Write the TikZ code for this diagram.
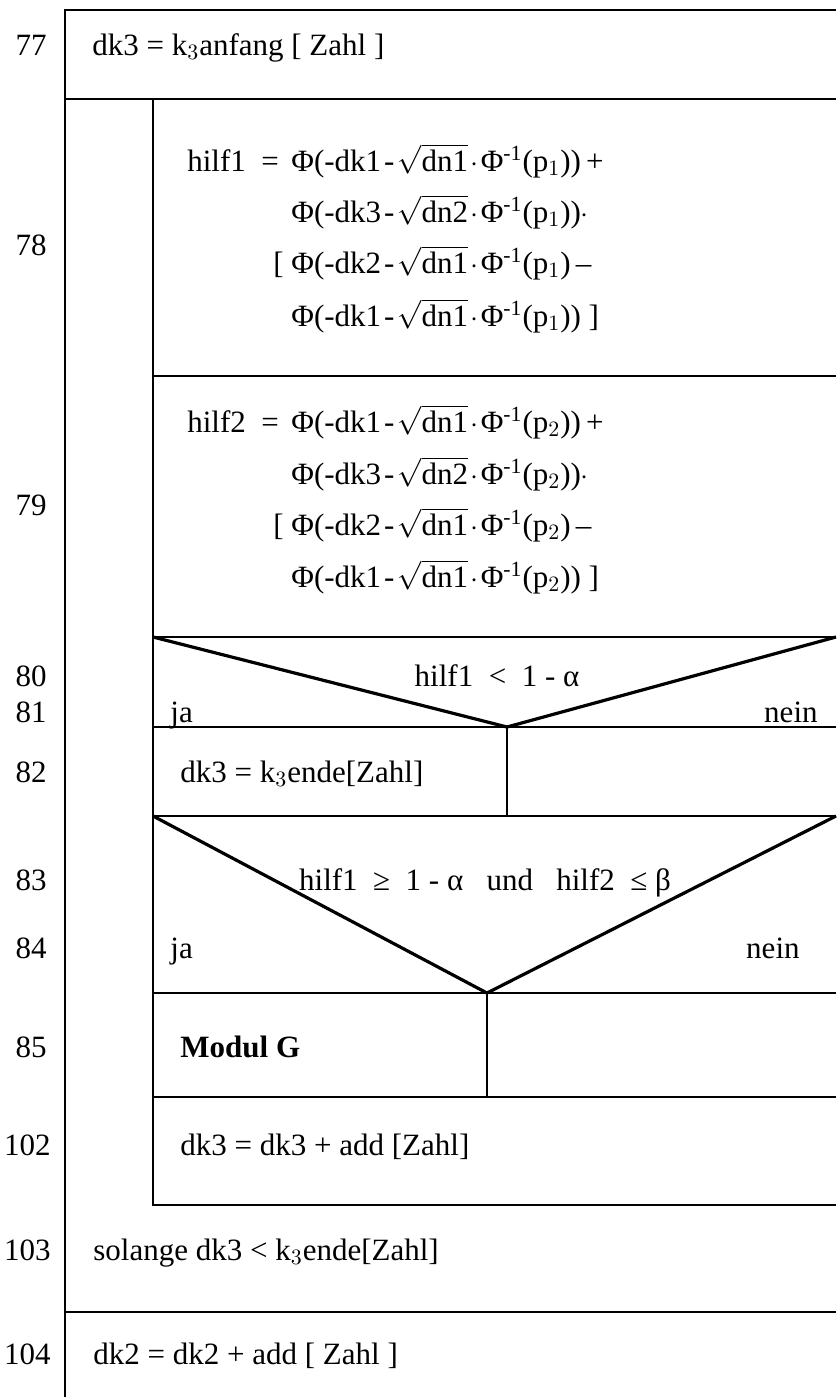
\documentclass[tikz,border=0pt]{standalone}
\usepackage{fontspec}
\setmainfont{Liberation Serif}
\newcommand\rt[1]{$\sqrt{\hbox{#1}}$}
\newcommand\Pinv{\kern1.2pt$\cdot$\kern1.2ptΦ\textsuperscript{-1}}
\newcommand\mi{\kern1.5pt-\kern1.5pt}
\begin{document}
\begin{tikzpicture}[x=0.5pt,y=-0.5pt,
  txt/.style={font=\fontsize{15.5}{18}\selectfont, inner sep=0pt},
  lt/.style={txt, anchor=base west},
  rtx/.style={txt, anchor=base east},
  ct/.style={txt, anchor=base},
  num/.style={txt, anchor=base east},
  frame/.style={line width=1.1pt},
  diag/.style={line width=1.6pt}]
\useasboundingbox (0,0) rectangle (836,1397);
% frame lines
\draw[frame] (65,1397) -- (65,10) -- (836,10);
\draw[frame] (65,99) -- (836,99);
\draw[frame] (153,99) -- (153,1205) -- (836,1205);
\draw[frame] (153,376) -- (836,376);
\draw[frame] (153,637) -- (836,637);
\draw[diag] (153,637) -- (507,727) -- (836,637);
\draw[frame] (153,727) -- (836,727);
\draw[frame] (507,727) -- (507,816);
\draw[frame] (153,816) -- (836,816);
\draw[diag] (153,816) -- (487,993) -- (836,816);
\draw[frame] (153,993) -- (836,993);
\draw[frame] (487,993) -- (487,1097);
\draw[frame] (153,1097) -- (836,1097);
\draw[frame] (65,1312) -- (836,1312);
% line numbers
\node[num] (n77) at (47,55) {77};
\node[num] (n78) at (47,255) {78};
\node[num] (n79) at (47,515) {79};
\node[num] (n80) at (47,686) {80};
\node[num] (n81) at (47,722) {81};
\node[num] (n82) at (47,782) {82};
\node[num] (n83) at (47,890) {83};
\node[num] (n84) at (47,958) {84};
\node[num] (n85) at (47,1057) {85};
\node[num] (n102) at (51,1155) {102};
\node[num] (n103) at (51,1260) {103};
\node[num] (n104) at (51,1364) {104};
% texts
\node[lt] (t77) at (92,55) {dk3 = k$_3$anfang [ Zahl ]};
\node[rtx] (h1a) at (287,171) {hilf1 \ = \ };
\node[lt] (h1b) at (291,171) {Φ(-dk1\mi\rt{dn1}\Pinv(p$_1$))\,+};
\node[lt] (h1c) at (291,222) {Φ(-dk3\mi\rt{dn2}\Pinv(p$_1$))$\cdot$};
\node[lt] (h1d) at (291,273) {\llap{[\ }Φ(-dk2\mi\rt{dn1}\Pinv(p$_1$)\,–};
\node[lt] (h1e) at (291,326) {Φ(-dk1\mi\rt{dn1}\Pinv(p$_1$)) ]};
\node[rtx] (h2a) at (287,432) {hilf2 \ = \ };
\node[lt] (h2b) at (291,432) {Φ(-dk1\mi\rt{dn1}\Pinv(p$_2$))\,+};
\node[lt] (h2c) at (291,484) {Φ(-dk3\mi\rt{dn2}\Pinv(p$_2$))$\cdot$};
\node[lt] (h2d) at (291,535) {\llap{[\ }Φ(-dk2\mi\rt{dn1}\Pinv(p$_2$)\,–};
\node[lt] (h2e) at (291,587) {Φ(-dk1\mi\rt{dn1}\Pinv(p$_2$)) ]};
\node[ct] (c1) at (497,686) {hilf1 \ < \ 1 - α};
\node[lt] (ja1) at (170,722) {ja};
\node[rtx] (nein1) at (818,722) {nein};
\node[lt] (t82) at (180,782) {dk3 = k$_3$ende[Zahl]};
\node[ct] (c2) at (485,890) {hilf1 \ ≥ \ 1 - α \ \ und \ \ hilf2 \ ≤ β};
\node[lt] (ja2) at (170,958) {ja};
\node[rtx] (nein2) at (800,958) {nein};
\node[lt] (t85) at (180,1057) {\bfseries Modul G};
\node[lt] (t102) at (180,1155) {dk3 = dk3 + add [Zahl]};
\node[lt] (t103) at (93,1260) {solange dk3 < k$_3$ende[Zahl]};
\node[lt] (t104) at (93,1364) {dk2 = dk2 + add [ Zahl ]};
\end{tikzpicture}
\end{document}
